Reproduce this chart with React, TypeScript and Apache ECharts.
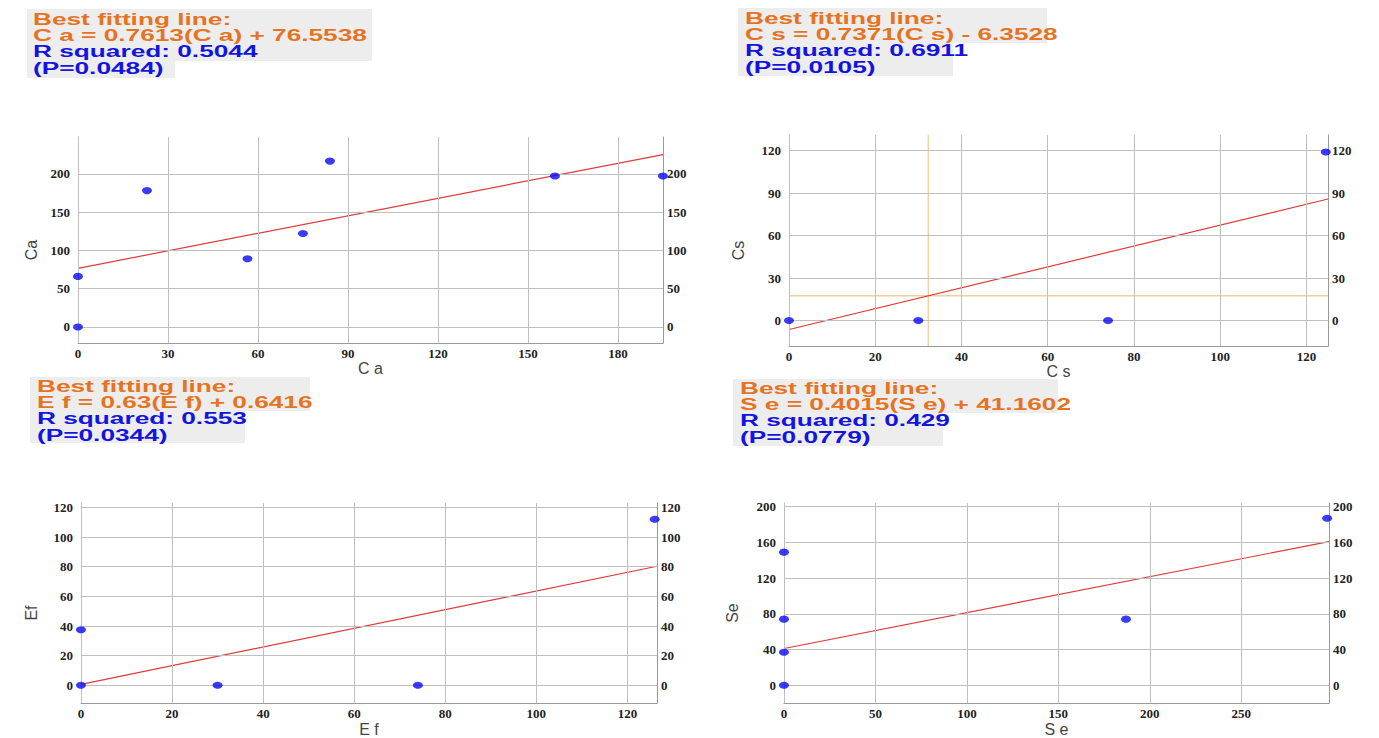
import React, { useEffect, useRef } from "react";
import * as echarts from "echarts";

// ---------- data ----------
const caX = [0, 0, 23, 56.5, 75, 84, 159, 195];
const caY = [0, 66, 178, 89, 122, 216.5, 197, 197];
const caXTicks = [0, 30, 60, 90, 120, 150, 180];
const caYTicks = [0, 50, 100, 150, 200];
const caXRange = [0, 195];
const caYRange = [-21, 248];
const caFit = [0.7613, 76.5538];

const csX = [0, 30, 74, 124.5];
const csY = [0, 0, 0, 119];
const csXTicks = [0, 20, 40, 60, 80, 100, 120];
const csYTicks = [0, 30, 60, 90, 120];
const csXRange = [0, 125];
const csYRange = [-18, 131];
const csFit = [0.7371, -6.3528];
const csCross = [32.3, 17.5];

const efX = [0, 0, 30, 74, 126];
const efY = [0, 37.5, 0, 0, 112];
const efXTicks = [0, 20, 40, 60, 80, 100, 120];
const efYTicks = [0, 20, 40, 60, 80, 100, 120];
const efXRange = [0, 126.5];
const efYRange = [-12, 123];
const efFit = [0.63, 0.6416];

const seX = [0, 0, 0, 0, 187, 297];
const seY = [0, 37, 74, 149, 74, 187];
const seXTicks = [0, 50, 100, 150, 200, 250];
const seYTicks = [0, 40, 80, 120, 160, 200];
const seXRange = [0, 298];
const seYRange = [-20, 204];
const seFit = [0.4015, 41.1602];

const caText = ["Best fitting line:", "C a = 0.7613(C a) + 76.5538", "R squared: 0.5044", "(P=0.0484)"];
const csText = ["Best fitting line:", "C s = 0.7371(C s) - 6.3528", "R squared: 0.6911", "(P=0.0105)"];
const efText = ["Best fitting line:", "E f = 0.63(E f) + 0.6416", "R squared: 0.553", "(P=0.0344)"];
const seText = ["Best fitting line:", "S e = 0.4015(S e) + 41.1602", "R squared: 0.429", "(P=0.0779)"];

// ---------- layout ----------
const panels = [
  { xs: caX, ys: caY, xt: caXTicks, yt: caYTicks, xr: caXRange, yr: caYRange, fit: caFit, xName: "C a", yName: "Ca", text: caText,
    grid: { left: 78, top: 137, width: 585, height: 206 }, yGap: 39, xGap: 15, tx: 33, ty: 19,
    boxes: [[27, 9, 345, 52], [27, 60, 148, 18]] },
  { xs: csX, ys: csY, xt: csXTicks, yt: csYTicks, xr: csXRange, yr: csYRange, fit: csFit, xName: "C s", yName: "Cs", text: csText,
    grid: { left: 789, top: 135, width: 539, height: 211 }, yGap: 43, xGap: 14, tx: 745, ty: 18,
    boxes: [[738, 8, 309, 35], [738, 42, 215, 34]] },
  { xs: efX, ys: efY, xt: efXTicks, yt: efYTicks, xr: efXRange, yr: efYRange, fit: efFit, xName: "E f", yName: "Ef", text: efText,
    grid: { left: 81, top: 503, width: 576, height: 204 }, yGap: 42, xGap: 12, tx: 37, ty: 386,
    boxes: [[30, 377, 280, 34], [30, 410, 215, 33]] },
  { xs: seX, ys: seY, xt: seXTicks, yt: seYTicks, xr: seXRange, yr: seYRange, fit: seFit, xName: "S e", yName: "Se", text: seText,
    grid: { left: 784, top: 503, width: 545, height: 205 }, yGap: 44, xGap: 14, tx: 740, ty: 388,
    boxes: [[733, 379, 325, 34], [733, 412, 210, 34]] },
];

const ORANGE = "#e6731f";
const BLUE = "#1414e0";
const GRID_COLOR = "#bfbfbf";
const AXIS_COLOR = "#9a9a9a";
const CROSS_COLOR = "#f0cf98";
const labelFont = { fontFamily: "Liberation Serif", fontWeight: "bold" as const, fontSize: 13, color: "#222" };

export default function App() {
  const ref = useRef<HTMLDivElement>(null);

  useEffect(() => {
    if (!ref.current) return;
    const chart = echarts.init(ref.current, null, { renderer: "svg" });

    const grids: any[] = [];
    const xAxes: any[] = [];
    const yAxes: any[] = [];
    const series: any[] = [];
    const graphics: any[] = [];

    panels.forEach((p, i) => {
      grids.push({ ...p.grid, containLabel: false });
      xAxes.push({
        type: "value", gridIndex: i, min: p.xr[0], max: p.xr[1], z: 0,
        name: p.xName, nameLocation: "middle", nameGap: p.xGap,
        nameTextStyle: { fontFamily: "Liberation Sans", fontSize: 16, color: "#444" },
        axisLine: { show: true, onZero: false, lineStyle: { color: AXIS_COLOR } },
        axisTick: { show: false },
        splitLine: { show: false },
        axisLabel: { ...labelFont, margin: 4, customValues: p.xt },
      });
      yAxes.push({
        type: "value", gridIndex: i, min: p.yr[0], max: p.yr[1], position: "left", z: 0,
        name: p.yName, nameLocation: "middle", nameGap: p.yGap,
        nameTextStyle: { fontFamily: "Liberation Sans", fontSize: 16, color: "#444", padding: [0, 20, 0, 0] },
        axisLine: { show: true, onZero: false, lineStyle: { color: AXIS_COLOR } },
        axisTick: { show: false },
        splitLine: { show: false },
        axisLabel: { ...labelFont, margin: 8, customValues: p.yt },
      });
      yAxes.push({
        type: "value", gridIndex: i, min: p.yr[0], max: p.yr[1], position: "right", z: 0,
        axisLine: { show: true, onZero: false, lineStyle: { color: AXIS_COLOR } },
        axisTick: { show: false },
        splitLine: { show: false },
        axisLabel: { ...labelFont, margin: 4, customValues: p.yt },
      });

      const x0 = p.xr[0];
      const x1 = p.xr[1];
      const fitLine = [
        [x0, p.fit[0] * x0 + p.fit[1]],
        [x1, p.fit[0] * x1 + p.fit[1]],
      ];

      const gridLines: any[] = [
        ...p.yt.map((v) => ({ yAxis: v })),
        ...p.xt.map((v) => ({ xAxis: v })),
      ];

      series.push({
        type: "line", xAxisIndex: i, yAxisIndex: i * 2, z: 1, silent: true,
        data: fitLine, showSymbol: false, lineStyle: { opacity: 0, width: 0 },
        markLine: {
          silent: true, symbol: ["none", "none"], label: { show: false },
          lineStyle: { color: GRID_COLOR, width: 1, type: "solid" },
          emphasis: { disabled: true },
          data: gridLines,
        },
      });
      if (i === 1) {
        // crosshair at the hovered point of the fitted line
        series.push({
          type: "line", xAxisIndex: i, yAxisIndex: i * 2, z: 2, silent: true,
          data: [[csCross[0], p.yr[0]], [csCross[0], p.yr[1]]],
          showSymbol: false, lineStyle: { color: CROSS_COLOR, width: 1.3 },
        });
        series.push({
          type: "line", xAxisIndex: i, yAxisIndex: i * 2, z: 2, silent: true,
          data: [[p.xr[0], csCross[1]], [p.xr[1], csCross[1]]],
          showSymbol: false, lineStyle: { color: CROSS_COLOR, width: 1.3 },
        });
      }
      series.push({
        type: "line", xAxisIndex: i, yAxisIndex: i * 2, z: 3,
        data: fitLine, showSymbol: false, lineStyle: { color: "#e03a3a", width: 1.2 },
      });
      series.push({
        type: "scatter", xAxisIndex: i, yAxisIndex: i * 2, z: 10, clip: false,
        data: p.xs.map((x, k) => [x, p.ys[k]]),
        symbol: "circle", symbolSize: [10, 7],
        itemStyle: { color: "#0a0af2", borderWidth: 0 },
      });

      p.boxes.forEach((b) => {
        graphics.push({ type: "rect", shape: { x: b[0], y: b[1], width: b[2], height: b[3] }, style: { fill: "#ededed" }, z: 0 });
      });
      p.text.forEach((t, k) => {
        graphics.push({
          type: "text", x: p.tx, y: p.ty + k * 16.4, scaleX: 1.64, z: 5,
          style: {
            text: t, fill: k < 2 ? ORANGE : BLUE,
            font: 'bold 16px "Liberation Sans", Arial, sans-serif',
            verticalAlign: "middle", align: "left",
          },
        });
      });
    });

    chart.setOption({
      animation: false,
      backgroundColor: "#ffffff",
      grid: grids,
      xAxis: xAxes,
      yAxis: yAxes,
      series,
      graphic: { elements: graphics },
    });

    return () => chart.dispose();
  }, []);

  return (
    <div
      ref={ref}
      style={{ position: "absolute", left: 0, top: 0, width: 1379, height: 738, background: "#fff" }}
    />
  );
}
